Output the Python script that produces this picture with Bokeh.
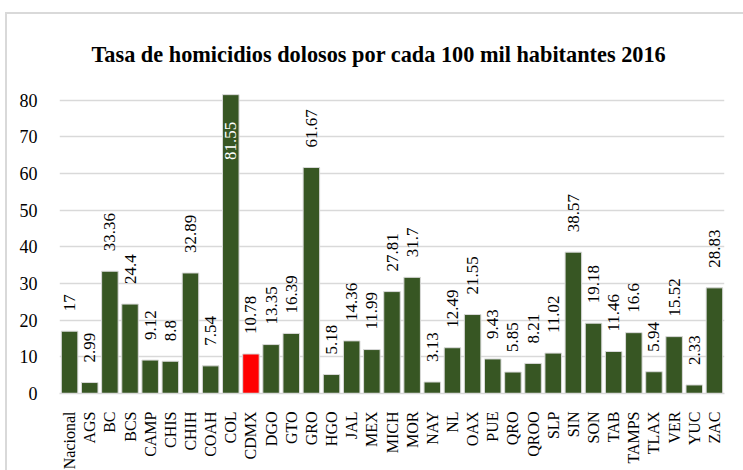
import math
from bokeh.plotting import figure
from bokeh.layouts import column
from bokeh.models import ColumnDataSource, FactorRange, Range1d, FixedTicker, Title
from bokeh.core.properties import value
from bokeh.embed import file_html
from bokeh.resources import INLINE

states = ["Nacional", "AGS", "BC", "BCS", "CAMP", "CHIS", "CHIH", "COAH", "COL", "CDMX",
          "DGO", "GTO", "GRO", "HGO", "JAL", "MEX", "MICH", "MOR", "NAY", "NL", "OAX",
          "PUE", "QRO", "QROO", "SLP", "SIN", "SON", "TAB", "TAMPS", "TLAX", "VER", "YUC", "ZAC"]
rates = [17, 2.99, 33.36, 24.4, 9.12, 8.8, 32.89, 7.54, 81.55, 10.78,
         13.35, 16.39, 61.67, 5.18, 14.36, 11.99, 27.81, 31.7, 3.13, 12.49, 21.55,
         9.43, 5.85, 8.21, 11.02, 38.57, 19.18, 11.46, 16.6, 5.94, 15.52, 2.33, 28.83]
highlight = "CDMX"
inside_label = "COL"
y_ticks = [0, 10, 20, 30, 40, 50, 60, 70, 80]

GREEN = "#375623"
RED = "#ff0000"
GRID = "#d9d9d9"
SERIF = "Liberation Serif"

colors = [RED if s == highlight else GREEN for s in states]
labels = ["{:g}".format(v) for v in rates]

src = ColumnDataSource(dict(x=states, top=rates, color=colors, label=labels))
out_idx = [i for i, s in enumerate(states) if s != inside_label]
in_idx = [i for i, s in enumerate(states) if s == inside_label]
src_out = ColumnDataSource(dict(x=[states[i] for i in out_idx], y=[rates[i] for i in out_idx],
                                label=[labels[i] for i in out_idx]))
src_in = ColumnDataSource(dict(x=[states[i] for i in in_idx], y=[rates[i] for i in in_idx],
                               label=[labels[i] for i in in_idx]))

p = figure(x_range=FactorRange(*states, range_padding=0), y_range=Range1d(0, 83.5),
           width=738, height=458, output_backend="svg", toolbar_location=None,
           min_border_left=52, min_border_right=21, min_border_top=73, min_border_bottom=77)

p.title = Title(text="Tasa de homicidios dolosos por cada 100 mil habitantes 2016",
                align="left", text_font=SERIF, text_font_size="22.3px",
                text_font_style="bold", text_color="#000000", standoff=42, offset=32)

p.vbar(x="x", top="top", width=0.82, source=src, fill_color="color",
       line_color=GRID, line_width=1)

p.text(x="x", y="y", text="label", source=src_out, angle=math.pi / 2,
       text_align="left", text_baseline="middle", y_offset=-20,
       text_font=value(SERIF), text_font_size="17px", text_color="#000000")
p.text(x="x", y="y", text="label", source=src_in, angle=math.pi / 2,
       text_align="right", text_baseline="middle", y_offset=27,
       text_font=value(SERIF), text_font_size="17px", text_color="#ffffff")

p.outline_line_color = None

p.xgrid.grid_line_color = None
p.ygrid.grid_line_color = GRID
p.ygrid.grid_line_width = 1.5
p.ygrid.ticker = FixedTicker(ticks=y_ticks)

p.yaxis.ticker = FixedTicker(ticks=y_ticks)
p.yaxis.axis_line_color = None
p.yaxis.major_tick_line_color = None
p.yaxis.minor_tick_line_color = None
p.yaxis.major_label_standoff = 16
p.yaxis.major_label_text_font = SERIF
p.yaxis.major_label_text_font_size = "18px"
p.yaxis.major_label_text_color = "#000000"

p.xaxis.axis_line_color = GRID
p.xaxis.axis_line_width = 1.5
p.xaxis.major_tick_line_color = None
p.xaxis.minor_tick_line_color = None
p.xaxis.major_label_orientation = math.pi / 2
p.xaxis.major_label_standoff = 12
p.xaxis.major_label_text_font = SERIF
p.xaxis.major_label_text_font_size = "16px"
p.xaxis.major_label_text_color = "#000000"

layout = column(p, margin=(12, 0, 0, 5),
                styles={"border-top": "2px solid #d9d9d9", "border-left": "2px solid #d9d9d9"})

open("out.html", "w").write(file_html(layout, INLINE))
